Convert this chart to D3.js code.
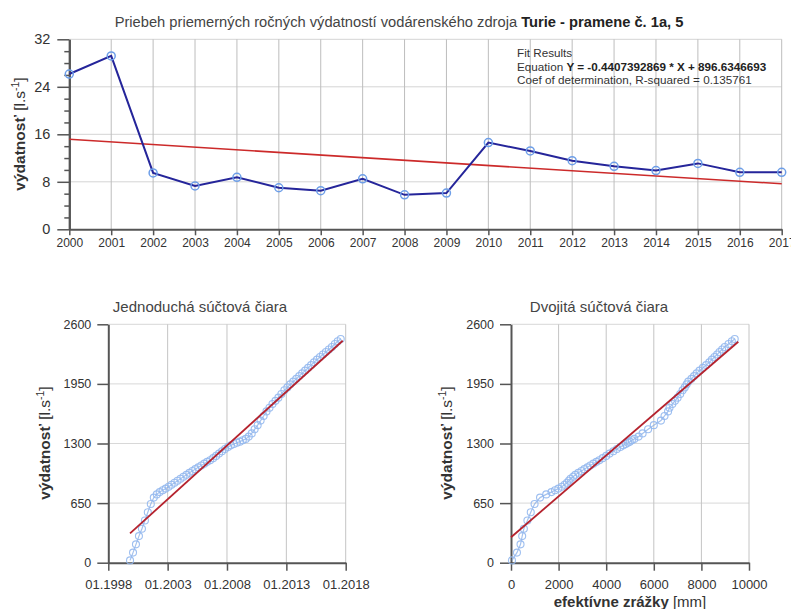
<!DOCTYPE html>
<html>
<head>
<meta charset="utf-8">
<script src="https://cdn.jsdelivr.net/npm/d3@7.9.0/dist/d3.min.js"></script>
<style>
  body { margin: 0; background: #fff; }
  text { font-family: "Liberation Sans", Arial, sans-serif; fill: #333; }
  .domain { stroke: #555; stroke-width: 2; }
  .tick line { stroke: #555; stroke-width: 1.5; }
</style>
</head>
<body>
<svg id="chart" width="791" height="609"></svg>
<script>
// --- data ---
const years = [2000, 2001, 2002, 2003, 2004, 2005, 2006, 2007, 2008, 2009,
               2010, 2011, 2012, 2013, 2014, 2015, 2016, 2017];
const yearlyMean = [26.15, 29.2, 9.5, 7.3, 8.75, 7.0, 6.5, 8.5, 5.8, 6.1,
                    14.6, 13.2, 11.55, 10.6, 9.9, 11.1, 9.6, 9.6];
const fitSlope = -0.4407392869;
const fitIntercept = 896.6346693;
const yTicksTop = [0, 8, 16, 24, 32];

// cumulative discharge, quarterly from 11.1999
const cumStart = '1999-11-01';
const cumDischarge = [25, 110, 200, 290, 370, 460, 550, 640, 710, 745,
  770, 790, 808, 828, 850, 872, 893, 915, 937, 958,
  980, 1000, 1020, 1040, 1060, 1080, 1100, 1118, 1140, 1165,
  1190, 1215, 1240, 1262, 1280, 1294, 1308, 1320, 1335, 1350,
  1375, 1410, 1455, 1500, 1550, 1600, 1650, 1690, 1730, 1765,
  1800, 1840, 1880, 1912, 1945, 1975, 2005, 2035, 2065, 2095,
  2125, 2155, 2185, 2215, 2243, 2270, 2298, 2325, 2353, 2385,
  2415, 2440];
// cumulative effective precipitation [mm], same quarters
const cumPrecip = [40, 250, 400, 470, 540, 690, 830, 990, 1220, 1480,
  1700, 1850, 1990, 2130, 2250, 2350, 2430, 2500, 2610, 2700,
  2830, 2960, 3080, 3210, 3330, 3460, 3590, 3710, 3850, 4000,
  4140, 4300, 4450, 4590, 4720, 4820, 4910, 4990, 5080, 5180,
  5360, 5530, 5760, 6000, 6300, 6450, 6600, 6660, 6780, 6890,
  7000, 7110, 7210, 7300, 7380, 7450, 7580, 7690, 7800, 7920,
  8060, 8200, 8330, 8440, 8550, 8660, 8760, 8870, 8980, 9140,
  9280, 9400];

const simpleFitDates = ['1999-11-01', '2017-10-01'];
const simpleFitValues = [320, 2421];
const doubleFitPrecip = [0, 9550];
const doubleFitValues = [277, 2410];

const cumTicks = [0, 650, 1300, 1950, 2600];
const dateTicks = ['1998-01-01', '2003-01-01', '2008-01-01', '2013-01-01', '2018-01-01'];
const precipTicks = [0, 2000, 4000, 6000, 8000, 10000];

const svg = d3.select('#chart');
const parseDate = d3.timeParse('%Y-%m-%d');

// y-axis label with bold word and superscript
function yLabel(g, x, y) {
  const t = g.append('text')
    .attr('transform', `translate(${x},${y}) rotate(-90)`)
    .attr('text-anchor', 'middle')
    .style('font-size', '15.5px');
  t.append('tspan').style('font-weight', 'bold').text('výdatnosť');
  t.append('tspan').text(' [l.s');
  t.append('tspan').attr('dy', -6).style('font-size', '10.5px').text('-1');
  t.append('tspan').attr('dy', 6).text(']');
}

// ---------- top chart ----------
const box = { l: 69.3, r: 781.7, t: 39.3, b: 229.3 };
const xTop = d3.scaleLinear().domain([2000, 2017]).range([box.l, box.r]);
const yTop = d3.scaleLinear().domain([0, 32]).range([box.b, box.t]);

const gTop = svg.append('g');

gTop.selectAll('.hgrid').data(yTicksTop.slice(1)).join('line')
  .attr('x1', box.l).attr('x2', box.r)
  .attr('y1', d => yTop(d)).attr('y2', d => yTop(d))
  .attr('stroke', '#d4d4d4');
gTop.selectAll('.vgrid').data(years.slice(1)).join('line')
  .attr('x1', d => xTop(d)).attr('x2', d => xTop(d))
  .attr('y1', box.t).attr('y2', box.b)
  .attr('stroke', '#bdbdbd');

gTop.append('g').attr('transform', `translate(0,${box.b})`)
  .call(d3.axisBottom(xTop).tickValues(years).tickFormat(d3.format('d')).tickSize(6).tickPadding(3).tickSizeOuter(0))
  .call(g => g.selectAll('text').style('font-size', '12px'));

const minor = d3.range(0, 33, 2).filter(v => v % 8 !== 0);
gTop.append('g').attr('transform', `translate(${box.l},0)`)
  .call(d3.axisLeft(yTop).tickValues(minor).tickFormat('').tickSize(5).tickSizeOuter(0));
gTop.append('g').attr('transform', `translate(${box.l},0)`)
  .call(d3.axisLeft(yTop).tickValues(yTicksTop).tickSize(12).tickPadding(7).tickSizeOuter(0))
  .call(g => g.selectAll('text').style('font-size', '14.5px'));

gTop.append('line')
  .attr('x1', xTop(2000)).attr('x2', xTop(2017))
  .attr('y1', yTop(fitSlope * 2000 + fitIntercept))
  .attr('y2', yTop(fitSlope * 2017 + fitIntercept))
  .attr('stroke', '#cc2a2a').attr('stroke-width', 1.6);

const topPts = years.map((y, i) => [y, yearlyMean[i]]);
gTop.append('path')
  .attr('d', d3.line().x(d => xTop(d[0])).y(d => yTop(d[1]))(topPts))
  .attr('fill', 'none').attr('stroke', '#25259a').attr('stroke-width', 2);
gTop.selectAll('.pt').data(topPts).join('circle')
  .attr('cx', d => xTop(d[0])).attr('cy', d => yTop(d[1])).attr('r', 4)
  .attr('fill', 'none').attr('stroke', '#6d9ee8').attr('stroke-width', 1.5);

const title = gTop.append('text').attr('x', 399).attr('y', 27)
  .attr('text-anchor', 'middle').style('font-size', '14.7px').style('fill', '#444');
title.append('tspan').text('Priebeh priemerných ročných výdatností vodárenského zdroja ');
title.append('tspan').style('font-weight', 'bold').style('fill', '#222').text('Turie - pramene č. 1a, 5');

const fit = gTop.append('g').style('font-size', '11.7px');
fit.append('text').attr('x', 517).attr('y', 57).text('Fit Results');
const eq = fit.append('text').attr('x', 517).attr('y', 70.5);
eq.append('tspan').text('Equation ');
eq.append('tspan').style('font-weight', 'bold').style('fill', '#222')
  .text(`Y = ${fitSlope} * X + ${fitIntercept}`);
fit.append('text').attr('x', 517).attr('y', 84).text('Coef of determination, R-squared = 0.135761');

yLabel(gTop, 25, 134);

// ---------- bottom charts ----------
const bt = 324.3, bb = 562.7;
const yCum = d3.scaleLinear().domain([0, 2600]).range([bb, bt]);

function frame(g, x, xTicks, fmt, left, right) {
  g.selectAll('.hgrid').data(cumTicks.slice(1)).join('line')
    .attr('x1', left).attr('x2', right)
    .attr('y1', d => yCum(d)).attr('y2', d => yCum(d))
    .attr('stroke', '#d8d8d8');
  g.selectAll('.vgrid').data(xTicks.slice(1)).join('line')
    .attr('x1', d => x(d)).attr('x2', d => x(d))
    .attr('y1', bt).attr('y2', bb)
    .attr('stroke', '#c4c4c4');
  g.append('g').attr('transform', `translate(0,${bb})`)
    .call(d3.axisBottom(x).tickValues(xTicks).tickFormat(fmt).tickSize(8).tickPadding(9).tickSizeOuter(0))
    .call(a => a.selectAll('text').style('font-size', '13px'));
  g.append('g').attr('transform', `translate(${left},0)`)
    .call(d3.axisLeft(yCum).tickValues(cumTicks).tickFormat(d3.format('d')).tickSize(11).tickPadding(6).tickSizeOuter(0))
    .call(a => a.selectAll('text').style('font-size', '12.5px'));
}

function band(g, pts) {
  g.append('path').attr('d', d3.line()(pts))
    .attr('fill', 'none').attr('stroke', '#7fa8e6').attr('stroke-width', 1.2).attr('opacity', 0.7);
  g.selectAll('.c').data(pts).join('circle')
    .attr('cx', d => d[0]).attr('cy', d => d[1]).attr('r', 3.5)
    .attr('fill', 'none').attr('stroke', '#94b8ee').attr('stroke-width', 1.1).attr('opacity', 0.9);
}

// simple cumulative curve
const xDate = d3.scaleTime().domain([parseDate('1998-01-01'), parseDate('2018-01-01')]).range([108.3, 345.7]);
const gL = svg.append('g');
frame(gL, xDate, dateTicks.map(parseDate), d3.timeFormat('%m.%Y'), 108.3, 345.7);
const start = parseDate(cumStart);
band(gL, cumDischarge.map((v, i) => [xDate(d3.timeMonth.offset(start, 3 * i)), yCum(v)]));
gL.append('line')
  .attr('x1', xDate(parseDate(simpleFitDates[0]))).attr('y1', yCum(simpleFitValues[0]))
  .attr('x2', xDate(parseDate(simpleFitDates[1]))).attr('y2', yCum(simpleFitValues[1]))
  .attr('stroke', '#b5232e').attr('stroke-width', 1.8);
gL.append('text').attr('x', 200).attr('y', 312).attr('text-anchor', 'middle')
  .style('font-size', '15px').style('fill', '#444').text('Jednoduchá súčtová čiara');
yLabel(gL, 50, 443);

// double cumulative curve
const xPrec = d3.scaleLinear().domain([0, 10000]).range([511, 749]);
const gR = svg.append('g');
frame(gR, xPrec, precipTicks, d3.format('d'), 511, 749);
band(gR, cumPrecip.map((p, i) => [xPrec(p), yCum(cumDischarge[i])]));
gR.append('line')
  .attr('x1', xPrec(doubleFitPrecip[0])).attr('y1', yCum(doubleFitValues[0]))
  .attr('x2', xPrec(doubleFitPrecip[1])).attr('y2', yCum(doubleFitValues[1]))
  .attr('stroke', '#b5232e').attr('stroke-width', 1.8);
gR.append('text').attr('x', 599).attr('y', 312).attr('text-anchor', 'middle')
  .style('font-size', '15px').style('fill', '#444').text('Dvojitá súčtová čiara');
yLabel(gR, 452, 443);
const xl = gR.append('text').attr('x', 630).attr('y', 607).attr('text-anchor', 'middle').style('font-size', '15px');
xl.append('tspan').style('font-weight', 'bold').text('efektívne zrážky');
xl.append('tspan').text(' [mm]');
</script>
</body>
</html>
